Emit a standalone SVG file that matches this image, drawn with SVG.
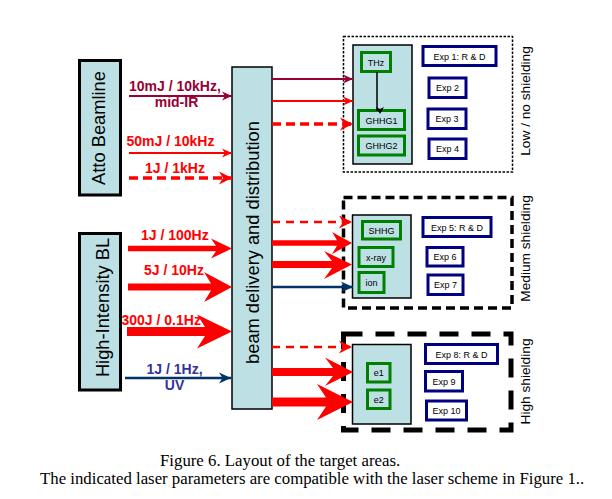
<svg xmlns="http://www.w3.org/2000/svg" width="612" height="499" viewBox="0 0 612 499">
<defs>
<style>
.src{fill:#BCE0E4;stroke:#000;stroke-width:3}
.col{fill:#BCE0E4;stroke:#000;stroke-width:1.5}
.inner{fill:#BCE0E4;stroke:#000;stroke-width:1.5}
.g{fill:#BCE0E4;stroke:#008000;stroke-width:3}
.e{fill:#fff;stroke:#000080;stroke-width:3}
.big{font-family:"Liberation Sans",Arial,sans-serif;font-size:18.3px;fill:#000}
.side{font-family:"Liberation Sans",Arial,sans-serif;font-size:13.7px;fill:#000}
.sm{font-family:"Liberation Sans",Arial,sans-serif;font-size:9px;fill:#000;text-anchor:middle}
.lb{font-family:"Liberation Sans",Arial,sans-serif;font-size:14px;font-weight:bold}
.cap{font-family:"Liberation Serif","Times New Roman",serif;font-size:16.8px;fill:#000}
.dr{stroke:#990033;stroke-width:2;fill:none;marker-end:url(#mdr)}
.rd{stroke:#FF0000;stroke-width:2;fill:none;marker-end:url(#mrd)}
.rdd{stroke:#FF0000;stroke-width:3.5;fill:none;stroke-dasharray:9,5;marker-end:url(#mrdb)}
.rdd2{stroke:#FF0000;stroke-width:2.5;fill:none;stroke-dasharray:8,6;marker-end:url(#mrdb)}
.nv{stroke:#003366;stroke-width:2.5;fill:none;marker-end:url(#mnv)}
.bk{stroke:#000;stroke-width:1.5;fill:none;marker-end:url(#mbk)}
.thick{fill:#FF0000;stroke:none}
</style>
<marker id="mdr" markerUnits="userSpaceOnUse" markerWidth="11" markerHeight="10" refX="10" refY="5" orient="auto"><path d="M0,0.5 L10,5 L0,9.5 L3,5 Z" fill="#990033"/></marker>
<marker id="mrd" markerUnits="userSpaceOnUse" markerWidth="11" markerHeight="10" refX="10" refY="5" orient="auto"><path d="M0,0.5 L10,5 L0,9.5 L3,5 Z" fill="#FF0000"/></marker>
<marker id="mrdb" markerUnits="userSpaceOnUse" markerWidth="14" markerHeight="14" refX="13" refY="7" orient="auto"><path d="M0,0.5 L13,7 L0,13.5 L4,7 Z" fill="#FF0000"/></marker>
<marker id="mnv" markerUnits="userSpaceOnUse" markerWidth="13" markerHeight="12" refX="12" refY="6" orient="auto"><path d="M0,0.5 L12,6 L0,11.5 L3.5,6 Z" fill="#003366"/></marker>
<marker id="mbk" markerUnits="userSpaceOnUse" markerWidth="8" markerHeight="8" refX="4" refY="7" orient="auto-start-reverse"><path d="M0,0 L4,7 L8,0 L4,2 Z" fill="#000" transform="rotate(-90 4 4)"/></marker>
</defs>
<rect width="612" height="499" fill="#fff"/>

<g id="atto-beamline">
<rect class="src" x="79.5" y="60.5" width="41" height="134.5"/>
<text class="big" text-anchor="middle" transform="translate(105,128) rotate(-90)">Atto Beamline</text>
</g>
<g id="high-intensity-bl">
<rect class="src" x="79.5" y="233.5" width="41" height="156.5"/>
<text class="big" text-anchor="middle" transform="translate(108.5,307.5) rotate(-90)">High-Intensity BL</text>
</g>
<g id="beam-delivery">
<rect class="col" x="232" y="67" width="40" height="342"/>
<text class="big" text-anchor="middle" transform="translate(258.5,242.5) rotate(-90)">beam delivery and distribution</text>
</g>

<g id="low-shielding">
<rect x="343.5" y="36.5" width="169" height="135.5" fill="none" stroke="#000" stroke-width="1.5" stroke-dasharray="2.5,1.5"/>
<text class="side" text-anchor="middle" transform="translate(530,101) rotate(-90)">Low / no shielding</text>
<g id="low-targets">
<rect class="inner" x="353" y="45" width="59" height="119"/>
<g id="thz"><rect class="g" x="361.5" y="52.5" width="29" height="19"/><text class="sm" x="376" y="65.5">THz</text></g>
<g id="ghhg1"><rect class="g" x="358.5" y="110.5" width="46" height="19"/><text class="sm" x="381.5" y="123.5">GHHG1</text></g>
<g id="ghhg2"><rect class="g" x="358.5" y="136" width="46" height="19"/><text class="sm" x="381.5" y="149">GHHG2</text></g>
</g>
<g id="exp1"><rect class="e" x="423" y="46.5" width="73" height="19"/><text class="sm" x="459.5" y="59.5">Exp 1: R &amp; D</text></g>
<g id="exp2"><rect class="e" x="429" y="78" width="37" height="19.5"/><text class="sm" x="447.5" y="91">Exp 2</text></g>
<g id="exp3"><rect class="e" x="428" y="109" width="38" height="19.5"/><text class="sm" x="447" y="122">Exp 3</text></g>
<g id="exp4"><rect class="e" x="429" y="139" width="37" height="19.5"/><text class="sm" x="447.5" y="152">Exp 4</text></g>
</g>

<g id="medium-shielding">
<rect x="343.5" y="197.5" width="168.5" height="110.5" fill="none" stroke="#000" stroke-width="3.5" stroke-dasharray="9,5"/>
<text class="side" text-anchor="middle" transform="translate(529.5,248.5) rotate(-90)">Medium shielding</text>
<g id="medium-targets">
<rect class="inner" x="352.5" y="215" width="58.5" height="83"/>
<g id="shhg"><rect class="g" x="362.5" y="221.5" width="38" height="17.5"/><text class="sm" x="381.5" y="233.5">SHHG</text></g>
<g id="x-ray"><rect class="g" x="359" y="247.5" width="34" height="19"/><text class="sm" x="376" y="260.5">x-ray</text></g>
<g id="ion"><rect class="g" x="359" y="272.5" width="25" height="20"/><text class="sm" x="371.5" y="286">ion</text></g>
</g>
<g id="exp5"><rect class="e" x="423" y="217.5" width="68" height="19"/><text class="sm" x="457" y="230.5">Exp 5: R &amp; D</text></g>
<g id="exp6"><rect class="e" x="427" y="247.5" width="36" height="18.5"/><text class="sm" x="445" y="260">Exp 6</text></g>
<g id="exp7"><rect class="e" x="428" y="275" width="35" height="19.5"/><text class="sm" x="445.5" y="288">Exp 7</text></g>
</g>

<g id="high-shielding">
<rect x="343.5" y="334" width="167.5" height="96" fill="none" stroke="#000" stroke-width="5" stroke-dasharray="19,13"/>
<text class="side" text-anchor="middle" transform="translate(529.5,381.5) rotate(-90)">High shielding</text>
<g id="high-targets">
<rect class="inner" x="352.5" y="344.5" width="58.5" height="79.5"/>
<g id="e1"><rect class="g" x="367.5" y="363.5" width="22.5" height="18.5"/><text class="sm" x="378.75" y="376">e1</text></g>
<g id="e2"><rect class="g" x="367.5" y="390" width="22.5" height="18.5"/><text class="sm" x="378.75" y="402.5">e2</text></g>
</g>
<g id="exp8"><rect class="e" x="425.5" y="344.5" width="72" height="19"/><text class="sm" x="461.5" y="357.5">Exp 8: R &amp; D</text></g>
<g id="exp9"><rect class="e" x="425.5" y="371.5" width="37" height="19.5"/><text class="sm" x="444" y="384.5">Exp 9</text></g>
<g id="exp10"><rect class="e" x="426.5" y="401" width="40" height="19"/><text class="sm" x="446.5" y="414">Exp 10</text></g>
</g>

<g id="connectors">
<path class="dr" d="M129,96 H232"/>
<path class="rd" d="M129,153 H232"/>
<path class="rdd" d="M129,178 H232"/>
<path class="thick" d="M128,245.8 L216,245.8 L211,238.5 L232,248.5 L211,258.5 L216,251.2 L128,251.2 Z"/>
<path class="thick" d="M128,283.5 L211,283.5 L204,272 L232,287 L204,302 L211,290.5 L128,290.5 Z"/>
<path class="thick" d="M127,327 L205,327 L197,314.5 L232,331.5 L197,348.5 L205,336 L127,336 Z"/>
<path class="nv" d="M125,378 H231"/>
<path class="dr" d="M272,79 H353"/>
<path class="rd" d="M272,101 H353"/>
<path class="rdd" d="M272,124 H353"/>
<path class="rdd2" d="M272,222 H352"/>
<path class="thick" d="M272,240.2 L337,240.2 L332,232 L352,243 L332,254 L337,245.8 L272,245.8 Z"/>
<path class="thick" d="M272,261 L332,261 L324,251 L352,264.5 L324,279 L332,268 L272,268 Z"/>
<path class="nv" d="M272,287 H353"/>
<path class="rdd2" d="M272,347 H352"/>
<path class="thick" d="M272,368 L333,368 L325,357.5 L353,372 L325,386 L333,376 L272,376 Z"/>
<path class="thick" d="M272,397.5 L326,397.5 L317,384 L353,402 L317,420 L326,406.5 L272,406.5 Z"/>
<path class="bk" d="M377,72 V111"/>
</g>

<g id="labels">
<text class="lb" x="129" y="91" fill="#990033">10mJ / 10kHz,</text>
<text class="lb" x="176.5" y="107" fill="#990033" text-anchor="middle">mid-IR</text>
<text class="lb" x="126.5" y="146" fill="#FF0000">50mJ / 10kHz</text>
<text class="lb" x="145" y="173" fill="#FF0000">1J / 1kHz</text>
<text class="lb" x="141" y="240" fill="#FF0000">1J / 100Hz</text>
<text class="lb" x="144" y="275" fill="#FF0000">5J / 10Hz</text>
<text class="lb" x="121.5" y="325" fill="#FF0000">300J / 0.1Hz</text>
<text class="lb" x="146.5" y="374" fill="#333399">1J / 1Hz,</text>
<text class="lb" x="174.5" y="390" fill="#333399" text-anchor="middle">UV</text>
</g>

<g id="caption">
<text class="cap" x="160" y="465.5">Figure 6. Layout of the target areas.</text>
<text class="cap" x="40" y="484">The indicated laser parameters are compatible with the laser scheme in Figure 1..</text>
</g>
</svg>
